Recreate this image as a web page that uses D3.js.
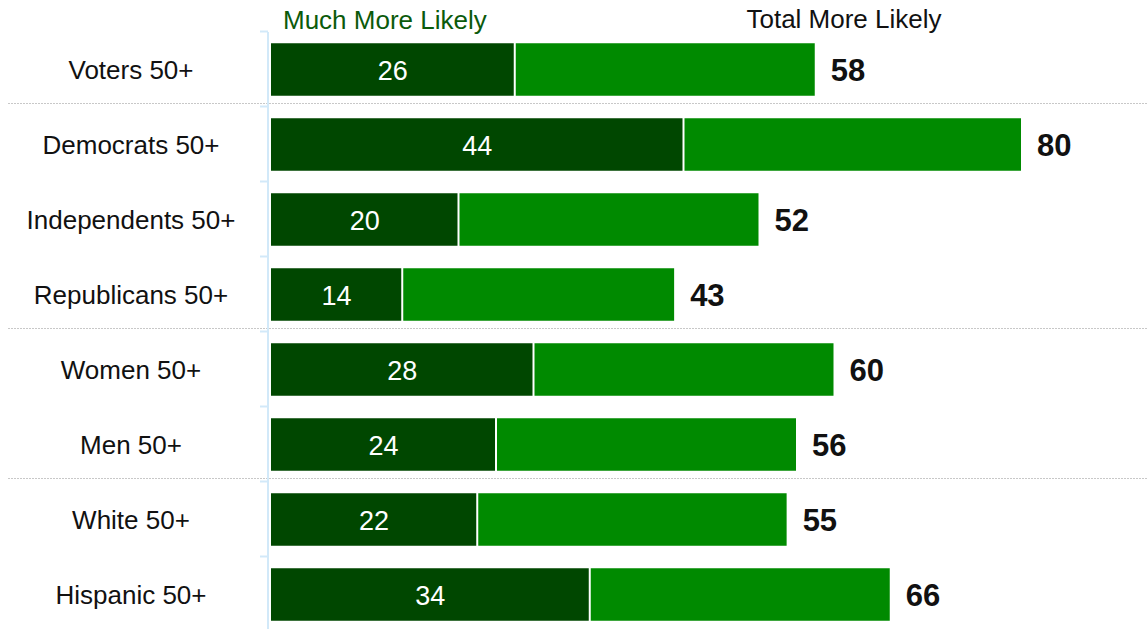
<!DOCTYPE html>
<html><head><meta charset="utf-8">
<script src="https://cdn.jsdelivr.net/npm/d3@7"></script>
<style>body{margin:0;background:#fff}svg{display:block}text{font-family:"Liberation Sans",Arial,sans-serif}</style>
</head><body><svg id="c" width="1147" height="629"></svg>
<script>
const categories = ["Voters 50+","Democrats 50+","Independents 50+","Republicans 50+","Women 50+","Men 50+","White 50+","Hispanic 50+"];
const muchMore = [26,44,20,14,28,24,22,34];
const totalMore = [58,80,52,43,60,56,55,66];
const groupEnds = [0,3,5]; // separator after these rows
const headers = ["Much More Likely","Total More Likely"];

const W=1147,H=629;
const svg=d3.select("#c");
const x=d3.scaleLinear().domain([0,100]).range([271,271+937.5]);
const y=d3.scaleBand().domain(categories).range([32,632]).paddingInner(0.3).paddingOuter(0.15);
const step=y.step();
const dark="#004700", light="#008a00";

// separators
svg.selectAll("line.sep").data(groupEnds).enter().append("line")
  .attr("x1",8).attr("x2",W)
  .attr("y1",d=>32+step*(d+1)-3.5).attr("y2",d=>32+step*(d+1)-3.5)
  .attr("stroke","#c8c8c8").attr("stroke-width",1).attr("stroke-dasharray","2,1");

// axis
const yAxis=d3.axisLeft(y).tickSize(0).tickFormat("");
const ag=svg.append("g").attr("transform","translate(268,0)").call(yAxis);
ag.select(".domain").remove();
ag.append("line").attr("x1",0).attr("x2",0).attr("y1",32).attr("y2",H).attr("stroke","#d2e9f9").attr("stroke-width",2);
const bounds=d3.range(categories.length+1).map(i=>32+step*i);
ag.selectAll("line.tk").data(bounds).enter().append("line")
  .attr("x1",-8).attr("x2",0).attr("y1",d=>d-0.5).attr("y2",d=>d-0.5)
  .attr("stroke","#d2e9f9").attr("stroke-width",2);

const rows=categories.map((c,i)=>({c,m:muchMore[i],t:totalMore[i]}));
const g=svg.selectAll("g.row").data(rows).enter().append("g");
g.append("rect").attr("x",x(0)).attr("y",d=>y(d.c)).attr("height",y.bandwidth())
  .attr("width",d=>x(d.m)-x(0)-1).attr("fill",dark);
g.append("rect").attr("x",d=>x(d.m)+1).attr("y",d=>y(d.c)).attr("height",y.bandwidth())
  .attr("width",d=>x(d.t)-x(d.m)-1).attr("fill",light);
g.append("text").attr("x",d=>(x(0)+x(d.m))/2).attr("y",d=>y(d.c)+y.bandwidth()/2+10)
  .attr("text-anchor","middle").attr("fill","#fff").attr("font-size",27).text(d=>d.m);
g.append("text").attr("x",d=>x(d.t)+16).attr("y",d=>y(d.c)+y.bandwidth()/2+11)
  .attr("fill","#111").attr("font-size",31).attr("font-weight","bold").text(d=>d.t);
g.append("text").attr("x",131).attr("y",d=>y(d.c)+y.bandwidth()/2+9)
  .attr("text-anchor","middle").attr("fill","#111").attr("font-size",26).text(d=>d.c);

svg.append("text").attr("x",283).attr("y",29).attr("fill","#0b5a0b").attr("font-size",26).text(headers[0]);
svg.append("text").attr("x",844).attr("y",28).attr("text-anchor","middle").attr("fill","#111").attr("font-size",26).text(headers[1]);
</script></body></html>
